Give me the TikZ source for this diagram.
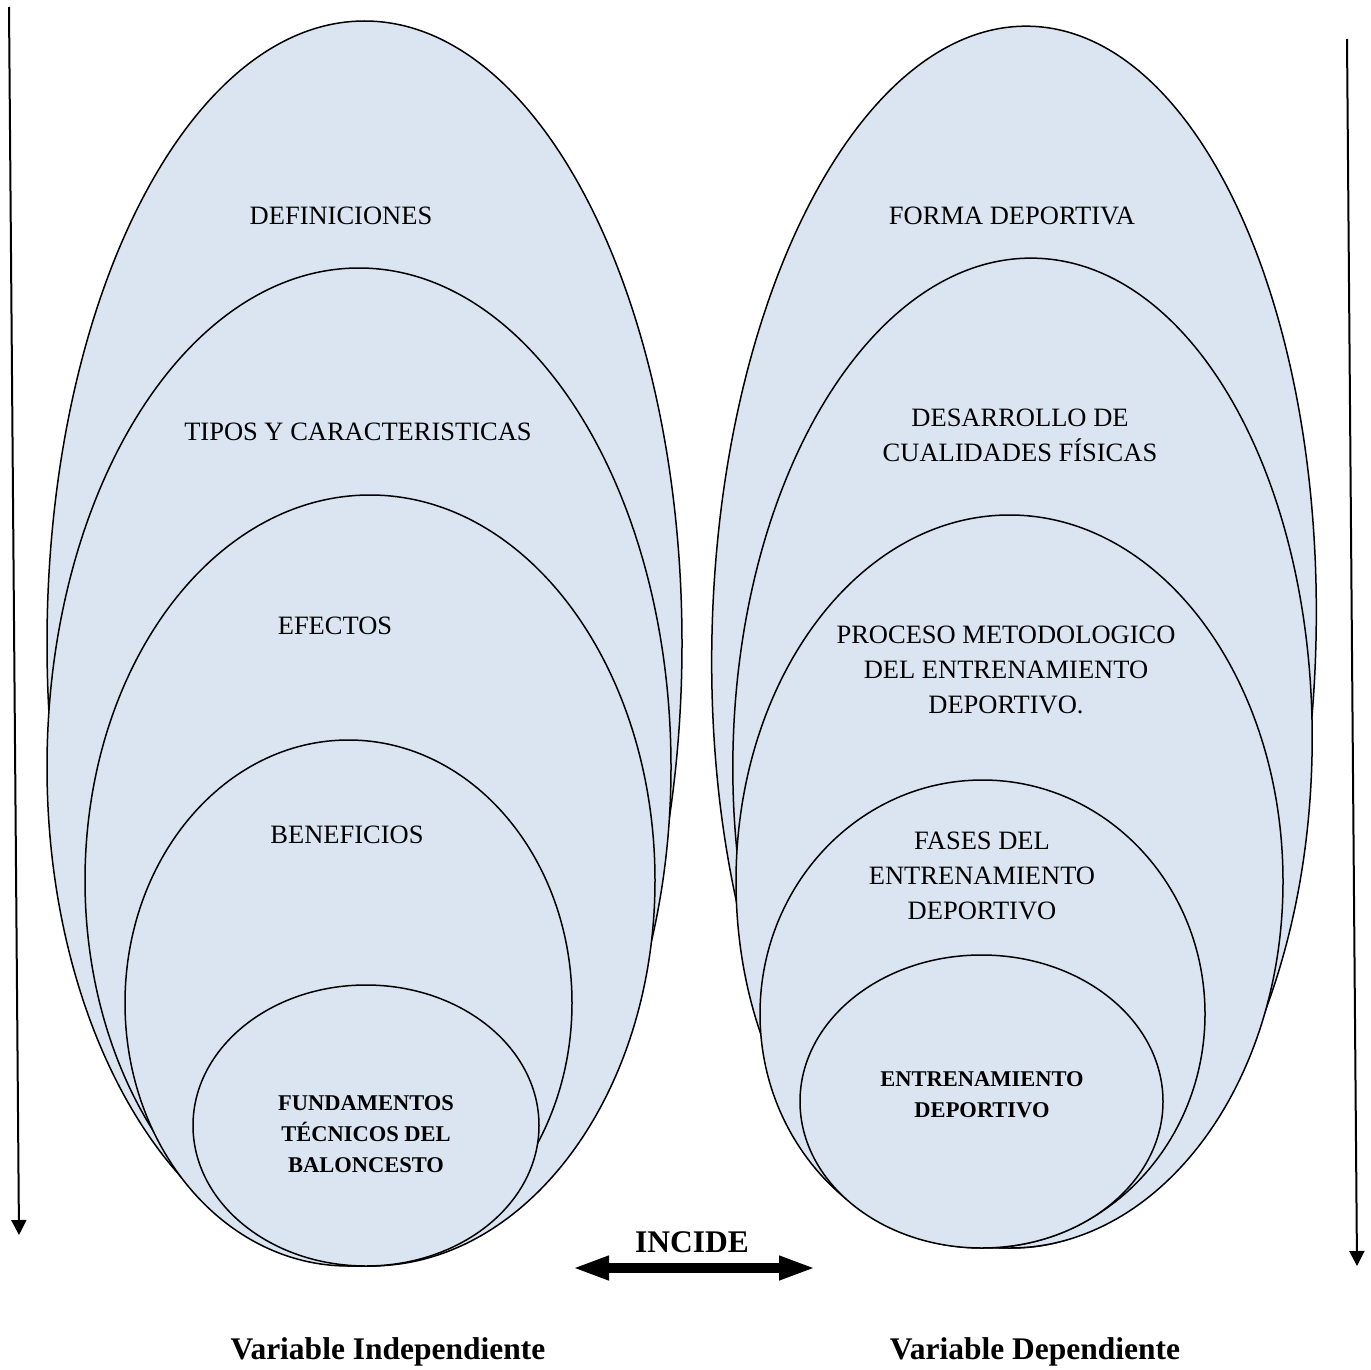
\documentclass[tikz,border=0pt]{standalone}
\usepackage{fontspec}
\setmainfont{Liberation Serif}
\usetikzlibrary{shapes.geometric,arrows.meta}
\definecolor{ovalfill}{RGB}{219,229,241}
\begin{document}
\begin{tikzpicture}[x=1pt,y=-1pt,
  oval/.style={ellipse,draw=black,line width=1.5pt,fill=ovalfill,inner sep=0pt},
  lbl/.style={font=\fontsize{26.5}{35}\selectfont,align=center,inner sep=0pt},
  blbl/.style={font=\fontsize{22.5}{31}\selectfont\bfseries,align=center,inner sep=0pt},
  headlbl/.style={font=\fontsize{31.5}{36}\selectfont\bfseries,inner sep=0pt},
  flow/.style={line width=2pt,-{Triangle[length=15pt,width=15pt]}}]
\useasboundingbox (0,0) rectangle (1371,1370);

% independent variable: nested ovals
\node[oval,minimum width=635pt,minimum height=1245pt] (l1) at (364.5,643.5) {};
\node[oval,minimum width=624pt,minimum height=998pt] (l2) at (359,767) {};
\node[oval,minimum width=570pt,minimum height=771pt] (l3) at (370,880.5) {};
\node[oval,minimum width=447pt,minimum height=526pt] (l4) at (348.5,1003) {};
\node[oval,minimum width=346pt,minimum height=281pt] (l5) at (366,1125.5) {};

\node[lbl] (t1) at (341,216) {DEFINICIONES};
\node[lbl] (t2) at (358,432) {TIPOS Y CARACTERISTICAS};
\node[lbl] (t3) at (335,626) {EFECTOS};
\node[lbl] (t4) at (347,835) {BENEFICIOS};
\node[blbl] (t5) at (366,1134) {FUNDAMENTOS\\TÉCNICOS DEL\\BALONCESTO};

% dependent variable: nested ovals
\node[oval,rotate=-1.5,minimum width=604pt,minimum height=1222pt] (r1) at (1014,637) {};
\node[oval,rotate=-1.5,minimum width=579pt,minimum height=990pt] (r2) at (1022.5,753) {};
\node[oval,minimum width=547pt,minimum height=733pt] (r3) at (1009.5,881.5) {};
\node[oval,minimum width=445pt,minimum height=468pt] (r4) at (982.5,1014) {};
\node[oval,minimum width=363pt,minimum height=293pt] (r5) at (981.5,1101.5) {};

\node[lbl] (s1) at (1012,216) {FORMA DEPORTIVA};
\node[lbl] (s2) at (1020,435) {DESARROLLO DE\\CUALIDADES FÍSICAS};
\node[lbl] (s3) at (1006,670) {PROCESO METODOLOGICO\\DEL ENTRENAMIENTO\\DEPORTIVO.};
\node[lbl] (s4) at (982,876) {FASES DEL\\ENTRENAMIENTO\\DEPORTIVO};
\node[blbl] (s5) at (982,1095) {ENTRENAMIENTO\\DEPORTIVO};

% side arrows
\coordinate (la) at (9,7);
\coordinate (lb) at (19,1235);
\coordinate (ra) at (1347,39);
\coordinate (rb) at (1357,1266);
\draw[flow] (la) -- (lb);
\draw[flow] (ra) -- (rb);

% relation between the variables
\coordinate (ia) at (572,1268);
\coordinate (ib) at (816,1268);
\draw[line width=10pt,{Triangle[length=37pt,width=22pt]}-{Triangle[length=37pt,width=22pt]}] (ia) -- (ib);
\node[headlbl] (inc) at (692,1242) {INCIDE};

\node[headlbl] (vi) at (388,1352) {Variable Independiente};
\node[headlbl] (vd) at (1035,1352) {Variable Dependiente};
\end{tikzpicture}
\end{document}
